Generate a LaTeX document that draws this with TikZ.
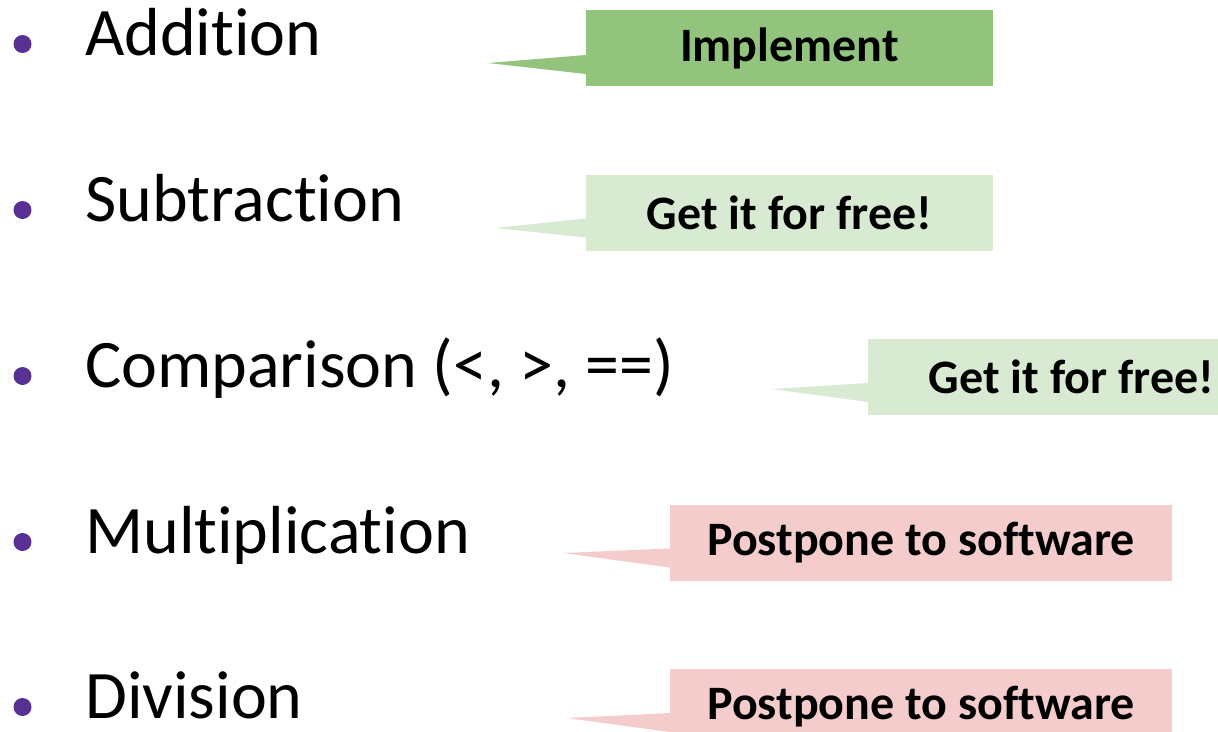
\documentclass[tikz,border=0pt]{standalone}
\usepackage{fontspec}
\setmainfont{Carlito}[Ligatures=NoCommon]
\definecolor{bulletpurple}{RGB}{88,48,148}
\definecolor{darkgreen}{RGB}{147,196,125}
\definecolor{lightgreen}{RGB}{217,234,211}
\definecolor{pinkish}{RGB}{244,204,204}
\begin{document}
\begin{tikzpicture}[x=1pt,y=-1pt,
  item/.style={anchor=base west,inner sep=0pt,font=\fontsize{68}{80}\selectfont},
  bulletdot/.style={circle,fill=bulletpurple,inner sep=0pt,minimum size=18pt},
  callout/.style={minimum height=76pt,inner sep=0pt,font=\bfseries\fontsize{48}{56}\selectfont},
]
\useasboundingbox (0,0) rectangle (1218,731);
\clip (0,0) rectangle (1218,731);

% bullets and items
\foreach \n/\y/\t in {a/55/Addition,b/221/Subtraction,c/387/{Comparison (<, >, ==)},d/553/Multiplication,e/718/Division}{
  \node[bulletdot] (dot\n) at (22.5,\y-11) {};
  \node[item] (item\n) at (85,\y) {\t};
}

% callouts
\node[callout,fill=darkgreen,minimum width=407pt] (c1) at (789.5,48) {Implement};
\coordinate (t1) at (488,63);
\fill[darkgreen] (t1) -- ([yshift=-7pt]c1.west) -- ([yshift=-26pt]c1.west) -- cycle;

\node[callout,fill=lightgreen,minimum width=407pt] (c2) at (789.5,212.5) {Get it for free!};
\coordinate (t2) at (495,228);
\fill[lightgreen] (t2) -- ([yshift=-6pt]c2.west) -- ([yshift=-25pt]c2.west) -- cycle;

\node[callout,fill=lightgreen,minimum width=407pt] (c3) at (1071.5,377) {Get it for free!};
\coordinate (t3) at (772,389);
\fill[lightgreen] (t3) -- ([yshift=-6pt]c3.west) -- ([yshift=-25pt]c3.west) -- cycle;

\node[callout,fill=pinkish,minimum width=502pt] (c4) at (921,542.5) {Postpone to software};
\coordinate (t4) at (563,553);
\fill[pinkish] (t4) -- ([yshift=-6pt]c4.west) -- ([yshift=-25pt]c4.west) -- cycle;

\node[callout,fill=pinkish,minimum width=502pt] (c5) at (921,707) {Postpone to software};
\coordinate (t5) at (567,718);
\fill[pinkish] (t5) -- ([yshift=-6pt]c5.west) -- ([yshift=-25pt]c5.west) -- cycle;
\end{tikzpicture}
\end{document}
